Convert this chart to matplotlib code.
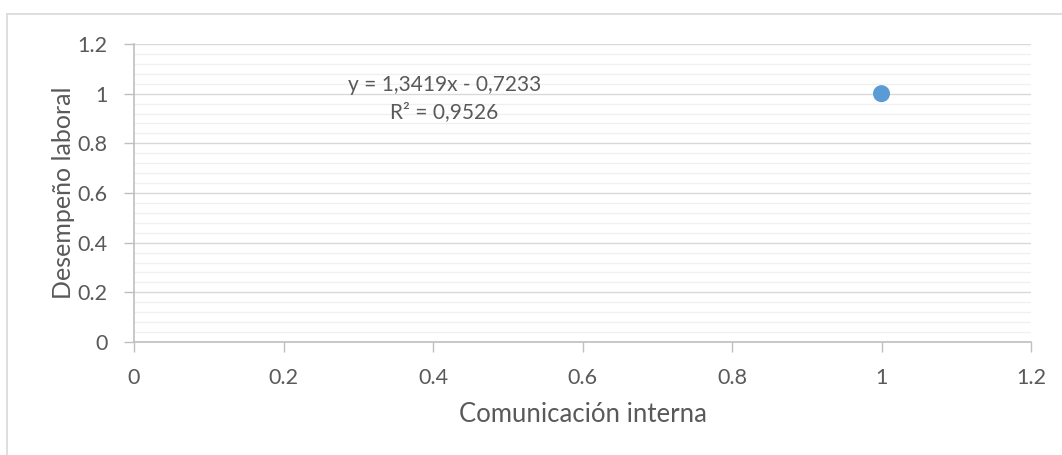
import matplotlib as mpl
import matplotlib.pyplot as plt
from matplotlib.lines import Line2D
import numpy as np

mpl.rcParams.update({
    "font.family": ["Lato", "DejaVu Sans"],
    "font.size": 15,
    "text.color": "#595959",
    "axes.labelcolor": "#595959",
    "xtick.color": "#595959",
    "ytick.color": "#595959",
})

# data
comunicacion = [1.0]
desempeno = [1.0]
x_ticks = [0, 0.2, 0.4, 0.6, 0.8, 1, 1.2]
y_ticks = [0, 0.2, 0.4, 0.6, 0.8, 1, 1.2]
tick_labels = ["0", "0.2", "0.4", "0.6", "0.8", "1", "1.2"]
equation = "y = 1,3419x - 0,7233\nR² = 0,9526"

W, H = 1062, 455
fig = plt.figure(figsize=(W / 100, H / 100), dpi=100)

# chart-area border (top and left edges visible)
fig.add_artist(Line2D([7 / W, 1], [1 - 14 / H, 1 - 14 / H], color="#d9d9d9", lw=1.2))
fig.add_artist(Line2D([7 / W, 7 / W], [0, 1 - 14 / H], color="#d9d9d9", lw=1.2))

ax = fig.add_axes([134 / W, 1 - 342 / H, (1031 - 134) / W, (342 - 44) / H])
ax.set_xlim(0, 1.2)
ax.set_ylim(0, 1.2)

ax.set_yticks(np.arange(0, 1.2001, 0.04), minor=True)
ax.grid(which="minor", axis="y", color="#f0f0f0", lw=1.0)
ax.grid(which="major", axis="y", color="#d9d9d9", lw=1.0)
ax.set_axisbelow(True)

ax.scatter(comunicacion, desempeno, s=150, color="#5b9bd5", zorder=3, edgecolors="none")

ax.set_xticks(x_ticks)
ax.set_xticklabels(tick_labels)
ax.set_yticks(y_ticks)
ax.set_yticklabels(tick_labels)
ax.tick_params(axis="both", which="major", length=7, width=1, color="#bfbfbf", labelsize=15.5)
ax.tick_params(axis="x", pad=12)
ax.tick_params(axis="y", pad=12)
ax.tick_params(which="minor", length=0)

for s in ["top", "right"]:
    ax.spines[s].set_visible(False)
for s in ["left", "bottom"]:
    ax.spines[s].set_color("#bfbfbf")
    ax.spines[s].set_linewidth(1.2)

ax.set_xlabel("Comunicación interna", fontsize=18.5, labelpad=10)
ax.set_ylabel("Desempeño laboral", fontsize=18, labelpad=2)

ax.text(0.415, 0.98, equation, ha="center", va="center", fontsize=15,
        linespacing=1.45, color="#595959")

fig.savefig("out.png", dpi=100)
